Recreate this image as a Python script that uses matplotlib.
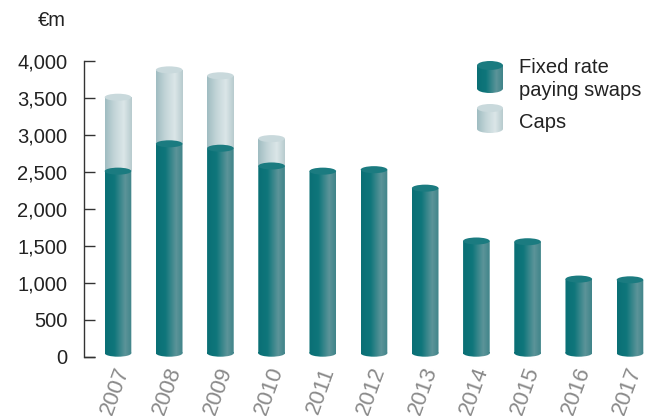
import numpy as np
import matplotlib
matplotlib.use("Agg")
import matplotlib.pyplot as plt
import matplotlib.transforms as mtransforms
from matplotlib.patches import Rectangle, Ellipse, PathPatch
from matplotlib.path import Path
from matplotlib.colors import LinearSegmentedColormap

plt.rcParams['font.family'] = ['Liberation Sans', 'DejaVu Sans']

years = ['2007', '2008', '2009', '2010', '2011', '2012', '2013', '2014', '2015', '2016', '2017']
swaps = [2510, 2880, 2820, 2580, 2510, 2530, 2280, 1565, 1555, 1050, 1040]
caps = [1000, 1000, 980, 370, 0, 0, 0, 0, 0, 0, 0]
yticks = [0, 500, 1000, 1500, 2000, 2500, 3000, 3500, 4000]
ytick_labels = ['0', '500', '1,000', '1,500', '2,000', '2,500', '3,000', '3,500', '4,000']

teal_cmap = LinearSegmentedColormap.from_list(
    'teal', [(0, '#0a6f75'), (0.35, '#0f767b'), (0.75, '#5c9499'), (1.0, '#3f8489')])
caps_cmap = LinearSegmentedColormap.from_list(
    'caps', [(0, '#9fbcc1'), (0.35, '#c3d5d8'), (0.7, '#dbe6e8'), (1.0, '#b7cbce')])
teal_top = '#1b7b80'
caps_top = '#c9d9dc'
FS = 14.5

fig = plt.figure(figsize=(6.52, 4.16), dpi=100)
ax = fig.add_axes([84/652, 1 - 356.7/416, 1 - 84/652, 295.7/416])

W = 0.52
EH = 95  # ellipse height in data units
grad = np.linspace(0, 1, 256).reshape(1, -1)


def cylinder(ax, x, y0, y1, cmap, topcolor, zorder, bottom=True):
    if bottom:
        b = y0 + EH/2
        rect = Rectangle((x - W/2, b), W, y1 - b)
        ell = Ellipse((x, b), W, EH)
        epath = ell.get_patch_transform().transform_path(ell.get_path())
        rpath = rect.get_patch_transform().transform_path(rect.get_path())
        clip = PathPatch(Path.make_compound_path(rpath, epath), facecolor='none',
                         edgecolor='none', transform=ax.transData)
    else:
        clip = Rectangle((x - W/2, y0), W, y1 - y0, facecolor='none', edgecolor='none')
    ext = (x - W/2, x + W/2, y0, y1)
    ax.add_patch(clip)
    im = ax.imshow(grad, cmap=cmap, extent=ext, aspect='auto', zorder=zorder,
                   interpolation='bilinear')
    im.set_clip_path(clip)
    ax.add_patch(Ellipse((x, y1), W, EH, facecolor=topcolor, edgecolor='none',
                         zorder=zorder + 0.5))


xs = np.arange(len(years))
for i, x in enumerate(xs):
    if caps[i] > 0:
        cylinder(ax, x, swaps[i], swaps[i] + caps[i], caps_cmap, caps_top, 2, bottom=False)
    cylinder(ax, x, 0, swaps[i], teal_cmap, teal_top, 3)

ax.set_xlim(-0.664, 10.43)
ax.set_ylim(0, 4000)
ax.set_yticks(yticks)
ax.set_yticklabels(ytick_labels, fontsize=FS, color='#222222')
ax.tick_params(axis='y', direction='in', length=8, width=1.0, color='#333333', pad=12)
ax.set_xticks(xs)
ax.set_xticklabels(years, rotation=70, fontsize=16, color='#8a8a8a', ha='right', va='center',
                   rotation_mode='anchor')
ax.tick_params(axis='x', length=0, pad=8)
offset = mtransforms.ScaledTranslation(6/100, 0, fig.dpi_scale_trans)
for lab in ax.get_xticklabels():
    lab.set_transform(lab.get_transform() + offset)
for s in ['top', 'right', 'bottom']:
    ax.spines[s].set_visible(False)
ax.spines['left'].set_linewidth(1.0)
ax.spines['left'].set_color('#333333')
ax.plot([0, 11/(652-84)], [0, 0], transform=ax.transAxes, color='#333333', lw=1.0,
        clip_on=False, solid_capstyle='butt')
ax.patch.set_alpha(0)

fig.text(38/652, 1 - 26/416, '€m', fontsize=FS, color='#222222', va='baseline', ha='left')


def legend_icon(x0, y0, w, h, cmap, topcolor):
    lax = fig.add_axes([x0/652, 1 - (y0 + h)/416, w/652, h/416])
    lax.axis('off')
    eh = 0.28
    rect = Rectangle((-0.5, eh/2), 1, 1 - eh)
    ell = Ellipse((0, eh/2), 1, eh)
    epath = ell.get_patch_transform().transform_path(ell.get_path())
    rpath = rect.get_patch_transform().transform_path(rect.get_path())
    clip = PathPatch(Path.make_compound_path(rpath, epath), facecolor='none', edgecolor='none',
                     transform=lax.transData)
    lax.add_patch(clip)
    im = lax.imshow(grad, cmap=cmap, extent=(-0.5, 0.5, 0, 1 - eh/2), aspect='auto')
    im.set_clip_path(clip)
    lax.add_patch(Ellipse((0, 1 - eh/2), 1, eh, facecolor=topcolor, edgecolor='none', zorder=5))
    lax.set_xlim(-0.5, 0.5)
    lax.set_ylim(0, 1)


legend_icon(477, 61, 26, 32, teal_cmap, teal_top)
legend_icon(477, 104, 26, 29, caps_cmap, caps_top)
fig.text(519/652, 1 - 73.3/416, 'Fixed rate', fontsize=FS, color='#222222',
         va='baseline', ha='left')
fig.text(519/652, 1 - 96.5/416, 'paying swaps', fontsize=FS, color='#222222',
         va='baseline', ha='left')
fig.text(519/652, 1 - 128/416, 'Caps', fontsize=FS, color='#222222', va='baseline', ha='left')

fig.savefig('out.png', dpi=100)
